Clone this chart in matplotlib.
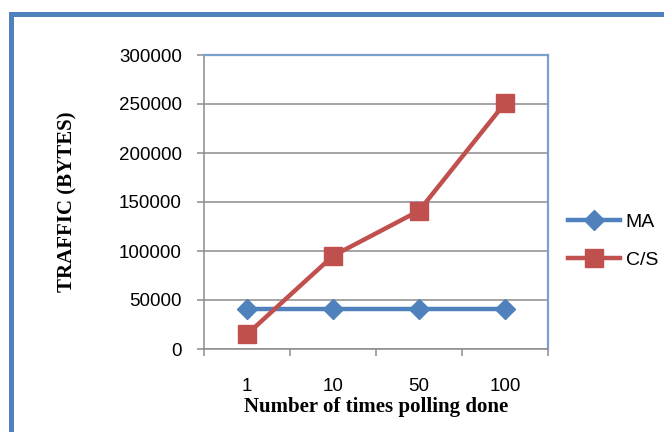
import matplotlib.pyplot as plt
import numpy as np
from matplotlib.patches import Rectangle

# data
categories = ['1', '10', '50', '100']
ma_traffic = [41000, 41000, 41000, 41000]
cs_traffic = [15000, 95000, 141000, 251000]
y_ticks = [0, 50000, 100000, 150000, 200000, 250000, 300000]

blue = '#4F81BD'
red = '#C0504D'
sans = ['Liberation Sans', 'DejaVu Sans']
serif = ['Liberation Serif', 'DejaVu Serif']

fig = plt.figure(figsize=(6.64, 4.32), dpi=100)
ax = fig.add_axes([204 / 664, 1 - 349 / 432, 344 / 664, 294 / 432])

x = np.arange(len(categories))
ax.plot(x, ma_traffic, color=blue, lw=3.2, marker='D', ms=10,
        mfc=blue, mec=blue, label='MA', zorder=3)
ax.plot(x, cs_traffic, color=red, lw=3.2, marker='s', ms=13.5,
        mfc=red, mec=red, label='C/S', zorder=4)

ax.set_xlim(-0.5, len(categories) - 0.5)
ax.set_ylim(0, 300000)
ax.set_yticks(y_ticks)
ax.set_yticklabels([str(v) for v in y_ticks], family=sans, fontsize=13.5)
ax.yaxis.grid(True, color='#8C8C8C', lw=1.1)
ax.set_axisbelow(True)

ax.set_xticks(x)
ax.set_xticklabels(categories, family=sans, fontsize=13.5)
ax.set_xticks(np.arange(-0.5, len(categories)), minor=True)
ax.tick_params(axis='x', which='major', length=0, pad=21)
ax.tick_params(axis='x', which='minor', length=5, color='#8C8C8C', width=1.1)
ax.tick_params(axis='y', length=5, color='#8C8C8C', width=1.1, pad=11)

for side in ['left', 'bottom']:
    ax.spines[side].set_color('#8C8C8C')
    ax.spines[side].set_linewidth(1.1)
for side in ['top', 'right']:
    ax.spines[side].set_color('#7BA0CD')
    ax.spines[side].set_linewidth(1.6)

ax.set_xlabel('Number of times polling done', family=serif, fontweight='bold',
              fontsize=15, labelpad=1)
ax.set_ylabel('TRAFFIC (BYTES)', family=serif, fontweight='bold',
              fontsize=15, labelpad=30)

leg = fig.legend(loc='center left', bbox_to_anchor=(568 / 664, 1 - 241 / 432),
                 frameon=False, prop={'family': sans, 'size': 14},
                 handlelength=2.67, handletextpad=0.3, labelspacing=1.05,
                 borderaxespad=0, borderpad=0)

# outer chart border (only left and top edges visible)
fig.patches.append(Rectangle((10.5 / 664, -0.2), 1.2, 1 - 14.5 / 432 + 0.2,
                             transform=fig.transFigure, fill=False,
                             edgecolor=blue, lw=3.6, clip_on=False))

fig.savefig('out.png', dpi=100)
